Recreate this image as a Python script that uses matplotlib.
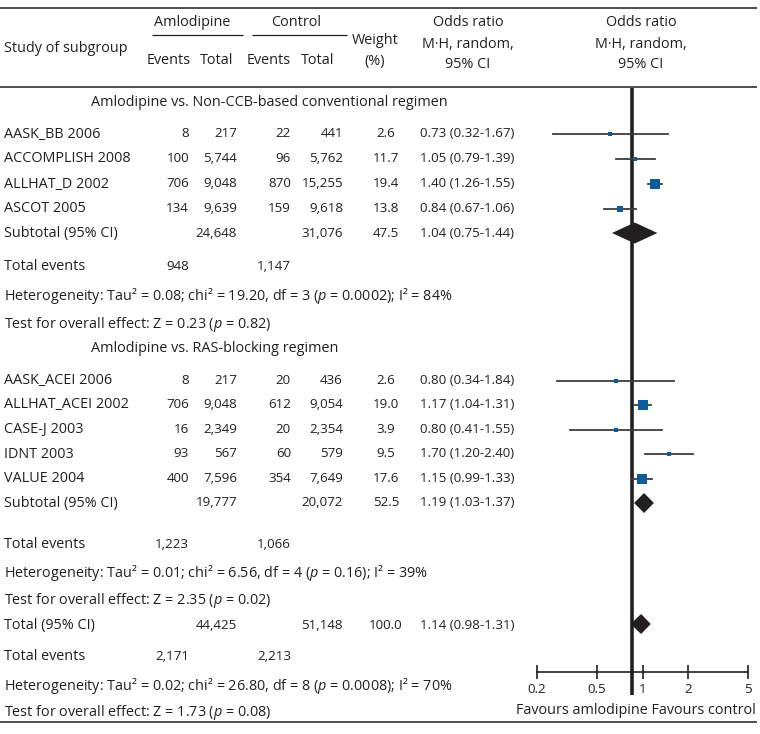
import matplotlib
matplotlib.use("Agg")
import matplotlib.pyplot as plt
from matplotlib.ticker import NullLocator

plt.rcParams['font.family'] = ['Open Sans', 'DejaVu Sans']
plt.rcParams['mathtext.fontset'] = 'custom'
plt.rcParams['mathtext.rm'] = 'Open Sans'
plt.rcParams['mathtext.it'] = 'Open Sans:italic'

FS = 10.4      # words
FS_NUM = 9.6   # number columns
INK = '#231f20'
BLUE = '#0b5c99'

# subgroup 1: amlodipine vs. non-CCB-based conventional regimen
studies1 = ['AASK_BB 2006', 'ACCOMPLISH 2008', 'ALLHAT_D 2002', 'ASCOT 2005']
amlo_ev1 = [8, 100, 706, 134]
amlo_tot1 = [217, 5744, 9048, 9639]
ctrl_ev1 = [22, 96, 870, 159]
ctrl_tot1 = [441, 5762, 15255, 9618]
weight1 = [2.6, 11.7, 19.4, 13.8]
or1 = [0.73, 1.05, 1.40, 0.84]
lo1 = [0.32, 0.79, 1.26, 0.67]
hi1 = [1.67, 1.39, 1.55, 1.06]
sub1 = dict(amlo_tot=24648, ctrl_tot=31076, w=47.5, est=1.04, lo=0.75, hi=1.44,
            amlo_ev=948, ctrl_ev=1147)
het1 = dict(tau2='0.08', chi2='19.20', df=3, p='0.0002', i2=84, z='0.23', pz='0.82')

# subgroup 2: amlodipine vs. RAS-blocking regimen
studies2 = ['AASK_ACEI 2006', 'ALLHAT_ACEI 2002', 'CASE-J 2003', 'IDNT 2003', 'VALUE 2004']
amlo_ev2 = [8, 706, 16, 93, 400]
amlo_tot2 = [217, 9048, 2349, 567, 7596]
ctrl_ev2 = [20, 612, 20, 60, 354]
ctrl_tot2 = [436, 9054, 2354, 579, 7649]
weight2 = [2.6, 19.0, 3.9, 9.5, 17.6]
or2 = [0.80, 1.17, 0.80, 1.70, 1.15]
lo2 = [0.34, 1.04, 0.41, 1.20, 0.99]
hi2 = [1.84, 1.31, 1.55, 2.40, 1.33]
sub2 = dict(amlo_tot=19777, ctrl_tot=20072, w=52.5, est=1.19, lo=1.03, hi=1.37,
            amlo_ev=1223, ctrl_ev=1066)
het2 = dict(tau2='0.01', chi2='6.56', df=4, p='0.16', i2=39, z='2.35', pz='0.02')

# overall
total = dict(amlo_tot=44425, ctrl_tot=51148, w=100.0, est=1.14, lo=0.98, hi=1.31,
             amlo_ev=2171, ctrl_ev=2213)
het_t = dict(tau2='0.02', chi2='26.80', df=8, p='0.0008', i2=70, z='1.73', pz='0.08')

scale_ticks = [0.2, 0.5, 1, 2, 5]
scale_labels = ['0.2', '0.5', '1', '2', '5']

# row layout (pixel rows from the top)
rows1 = [134, 159, 184, 209]
rows2 = [381, 405, 430, 454, 479]
y_sub1, y_ev1, y_het1, y_test1 = 234, 267, 296, 324
y_sub2, y_ev2, y_het2, y_test2 = 503, 545, 573, 601
y_tot, y_evt, y_hett, y_testt = 626, 657, 686, 713

# column layout
X_NAME, X_AEV, X_ATOT, X_CEV, X_CTOT, X_W, X_OR = 4, 189, 237, 291, 343, 386, 420

fig = plt.figure(figsize=(7.6, 7.34), dpi=100)
ax = fig.add_axes([0, 0, 1, 1])
ax.set_xlim(0, 760)
ax.set_ylim(734, 0)
ax.axis('off')


def txt(x, y, s, ha='left', fs=FS):
    ax.text(x, y, s, ha=ha, va='center', fontsize=fs, color=INK)


def num(x, y, s, ha='right'):
    txt(x, y - 0.5, s, ha=ha, fs=FS_NUM)


def ci(est, lo, hi):
    return f'{est:.2f} ({lo:.2f}-{hi:.2f})'


# header
ax.hlines([8, 87, 722], 0, 757, color=INK, lw=1.1)
ax.hlines(35, 152, 243, color=INK, lw=0.9)
ax.hlines(35, 252, 347, color=INK, lw=0.9)
txt(4, 48, 'Study of subgroup')
txt(192, 22, 'Amlodipine', ha='center')
txt(296, 22, 'Control', ha='center')
txt(169, 61, 'Events', ha='center')
txt(217, 61, 'Total', ha='center')
txt(269, 61, 'Events', ha='center')
txt(318, 61, 'Total', ha='center')
txt(375, 40, 'Weight', ha='center')
txt(375, 61, '(%)', ha='center')
for xc in (468, 641):
    txt(xc, 22, 'Odds ratio', ha='center')
    txt(xc, 44, 'M·H, random,', ha='center')
    txt(xc, 65, '95% CI', ha='center')


def study_rows(ys, names, aev, atot, cev, ctot, w, est, lo, hi):
    for i, y in enumerate(ys):
        txt(X_NAME, y, names[i])
        num(X_AEV, y, f'{aev[i]:,}')
        num(X_ATOT, y, f'{atot[i]:,}')
        num(X_CEV, y, f'{cev[i]:,}')
        num(X_CTOT, y, f'{ctot[i]:,}')
        num(X_W, y, f'{w[i]:.1f}', ha='center')
        num(X_OR, y, ci(est[i], lo[i], hi[i]), ha='left')


def summary_rows(label, y, yev, s):
    txt(X_NAME, y, label)
    num(X_ATOT, y, f"{s['amlo_tot']:,}")
    num(X_CTOT, y, f"{s['ctrl_tot']:,}")
    num(X_W, y, f"{s['w']:.1f}", ha='center')
    num(X_OR, y, ci(s['est'], s['lo'], s['hi']), ha='left')
    txt(X_NAME, yev, 'Total events')
    num(X_AEV, yev, f"{s['amlo_ev']:,}")
    num(X_CEV, yev, f"{s['ctrl_ev']:,}")


def het_rows(yh, yt, h):
    txt(X_NAME, yh, f"Heterogeneity: Tau² = {h['tau2']}; chi² = {h['chi2']}, "
                    f"df = {h['df']} ($p$ = {h['p']}); I² = {h['i2']}%")
    txt(X_NAME, yt, f"Test for overall effect: Z = {h['z']} ($p$ = {h['pz']})")


txt(91, 102, 'Amlodipine vs. Non-CCB-based conventional regimen')
study_rows(rows1, studies1, amlo_ev1, amlo_tot1, ctrl_ev1, ctrl_tot1, weight1, or1, lo1, hi1)
summary_rows('Subtotal (95% CI)', y_sub1, y_ev1, sub1)
het_rows(y_het1, y_test1, het1)

txt(91, 348, 'Amlodipine vs. RAS-blocking regimen')
study_rows(rows2, studies2, amlo_ev2, amlo_tot2, ctrl_ev2, ctrl_tot2, weight2, or2, lo2, hi2)
summary_rows('Subtotal (95% CI)', y_sub2, y_ev2, sub2)
het_rows(y_het2, y_test2, het2)

summary_rows('Total (95% CI)', y_tot, y_evt, total)
het_rows(y_hett, y_testt, het_t)

# forest panel
fax = fig.add_axes([520 / 760, 0, 240 / 760, 1])
fax.set_xscale('log')
fax.set_xlim(10 ** -0.7, 10 ** 0.8)
fax.set_ylim(734, 0)
fax.axis('off')
fax.patch.set_alpha(0)

fax.plot([1, 1], [88, 695], color=INK, lw=2.6, solid_capstyle='butt', zorder=1)


def forest(ys, est, lo, hi, w):
    for i, y in enumerate(ys):
        fax.plot([lo[i], hi[i]], [y, y], color='#3d3d3d', lw=1.3, zorder=2)
        side = 3.4 + max(0, w[i] - 10) * 0.8
        fax.plot(est[i], y, 's', color=BLUE, ms=side * 0.72, mew=0, zorder=3)


def diamond(y, s, h=10):
    fax.fill([s['lo'], s['est'], s['hi'], s['est']], [y, y - h, y, y + h],
             color=INK, lw=0, zorder=3)


forest(rows1, or1, lo1, hi1, weight1)
forest(rows2, or2, lo2, hi2, weight2)
diamond(y_sub1 - 1, sub1, 10.5)
diamond(y_sub2, sub2)
diamond(y_tot - 2, total)

# scale bar
sax = fig.add_axes([537 / 760, 1 - 672 / 734, 211 / 760, 0.0001])
sax.set_xscale('log')
sax.set_xlim(0.2, 5)
sax.patch.set_alpha(0)
for side in ('top', 'left', 'right'):
    sax.spines[side].set_visible(False)
sax.spines['bottom'].set_color(INK)
sax.spines['bottom'].set_linewidth(1.2)
sax.set_yticks([])
sax.set_xticks(scale_ticks)
sax.set_xticklabels(scale_labels)
sax.xaxis.set_minor_locator(NullLocator())
sax.tick_params(axis='x', direction='inout', length=10, width=1.2, colors=INK,
                labelsize=FS_NUM, pad=3)

txt(756, 710, 'Favours amlodipine Favours control', ha='right')

fig.savefig('out.png', dpi=100)
